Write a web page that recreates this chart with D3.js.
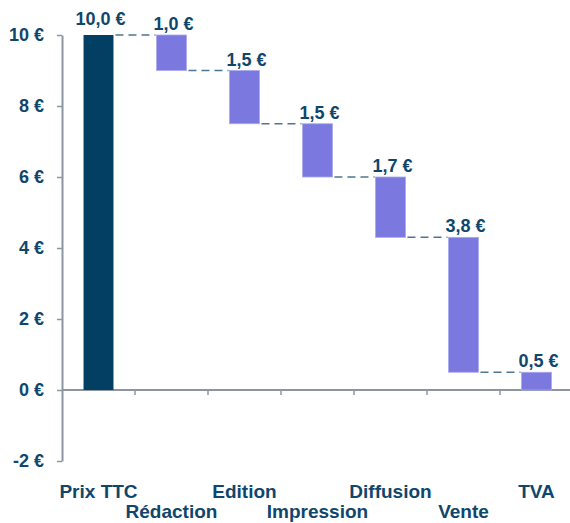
<!DOCTYPE html>
<html>
<head>
<meta charset="utf-8">
<script src="https://cdn.jsdelivr.net/npm/d3@7"></script>
<style>
  body { margin: 0; background: #fff; }
  text { font-family: "Liberation Sans", Arial, Helvetica, sans-serif; font-weight: bold; fill: #0f466c; }
</style>
</head>
<body>
<script>
// data
const categories = ["Prix TTC", "Rédaction", "Edition", "Impression", "Diffusion", "Vente", "TVA"];
const amounts = [10.0, 1.0, 1.5, 1.5, 1.7, 3.8, 0.5];
const yTicks = [-2, 0, 2, 4, 6, 8, 10];

let width = 570, height = 523;
let plotLeft = 62, plotRight = 573, plotTop = 35, plotBottom = 461;

// waterfall steps: first bar is the total, next ones go down
let running = 0;
const steps = categories.map((c, i) => {
  let from, to;
  if (i == 0) { from = 0; to = amounts[0]; running = amounts[0]; }
  else { from = running; to = running - amounts[i]; running = to; }
  return {cat: c, i: i, value: amounts[i], lo: Math.min(from, to), hi: Math.max(from, to), level: running};
});

const svg = d3.select("body").append("svg")
  .attr("width", width)
  .attr("height", height);

const x = d3.scaleBand()
  .domain(categories)
  .range([plotLeft, plotRight])
  .paddingInner(0.59)
  .paddingOuter(0.295);

const y = d3.scaleLinear()
  .domain([-2, 10])
  .range([plotBottom, plotTop]);

const fmt = v => d3.format(".1f")(v).replace(".", ",") + " €";

// y axis
const yAxis = svg.append("g")
  .attr("transform", `translate(${plotLeft},0)`)
  .call(d3.axisLeft(y).tickValues(yTicks).tickSizeInner(5).tickSizeOuter(0).tickPadding(13)
    .tickFormat(d => d + " €"));
yAxis.select(".domain").attr("stroke", "#8c96a3").attr("stroke-width", 2);
yAxis.selectAll(".tick line").attr("stroke", "#8c96a3").attr("stroke-width", 1.5);
yAxis.selectAll(".tick text").style("font-size", "18px").attr("fill", "#0f466c");

// zero line + separators between categories
svg.append("line")
  .attr("x1", plotLeft).attr("x2", width)
  .attr("y1", y(0)).attr("y2", y(0))
  .attr("stroke", "#8c96a3").attr("stroke-width", 2);

svg.selectAll(".sep")
  .data(d3.range(1, categories.length))
  .enter().append("line")
  .attr("class", "sep")
  .attr("x1", d => plotLeft + d * x.step())
  .attr("x2", d => plotLeft + d * x.step())
  .attr("y1", y(0))
  .attr("y2", y(0) + 5)
  .attr("stroke", "#8c96a3")
  .attr("stroke-width", 1.5);

// connectors
svg.selectAll(".link")
  .data(steps.slice(0, -1))
  .enter().append("line")
  .attr("class", "link")
  .attr("x1", d => x(d.cat) + x.bandwidth() + 2)
  .attr("x2", d => x(categories[d.i + 1]) - 1)
  .attr("y1", d => y(d.level))
  .attr("y2", d => y(d.level))
  .attr("stroke", "#4f7690")
  .attr("stroke-width", 1.5)
  .attr("stroke-dasharray", "8,5");

// bars
svg.selectAll(".bar")
  .data(steps)
  .enter().append("rect")
  .attr("class", "bar")
  .attr("x", d => x(d.cat))
  .attr("width", x.bandwidth())
  .attr("y", d => y(d.hi))
  .attr("height", d => y(d.lo) - y(d.hi))
  .attr("fill", d => d.i == 0 ? "#023f63" : "#7b79df")
  .attr("stroke", d => d.i == 0 ? "none" : "#a9a8ee")
  .attr("stroke-width", 0.8);

// value labels
svg.selectAll(".val")
  .data(steps)
  .enter().append("text")
  .attr("class", "val")
  .attr("x", d => x(d.cat) + x.bandwidth() / 2 + 2)
  .attr("y", d => y(d.hi) - (d.i == 0 ? 10 : 5))
  .attr("text-anchor", "middle")
  .style("font-size", "18px")
  .text(d => fmt(d.value));

// category labels, staggered on two rows
svg.selectAll(".cat")
  .data(categories)
  .enter().append("text")
  .attr("class", "cat")
  .attr("x", d => x(d) + x.bandwidth() / 2)
  .attr("y", (d, i) => i % 2 == 0 ? 498 : 518)
  .attr("text-anchor", "middle")
  .style("font-size", "19px")
  .text(d => d);
</script>
</body>
</html>
